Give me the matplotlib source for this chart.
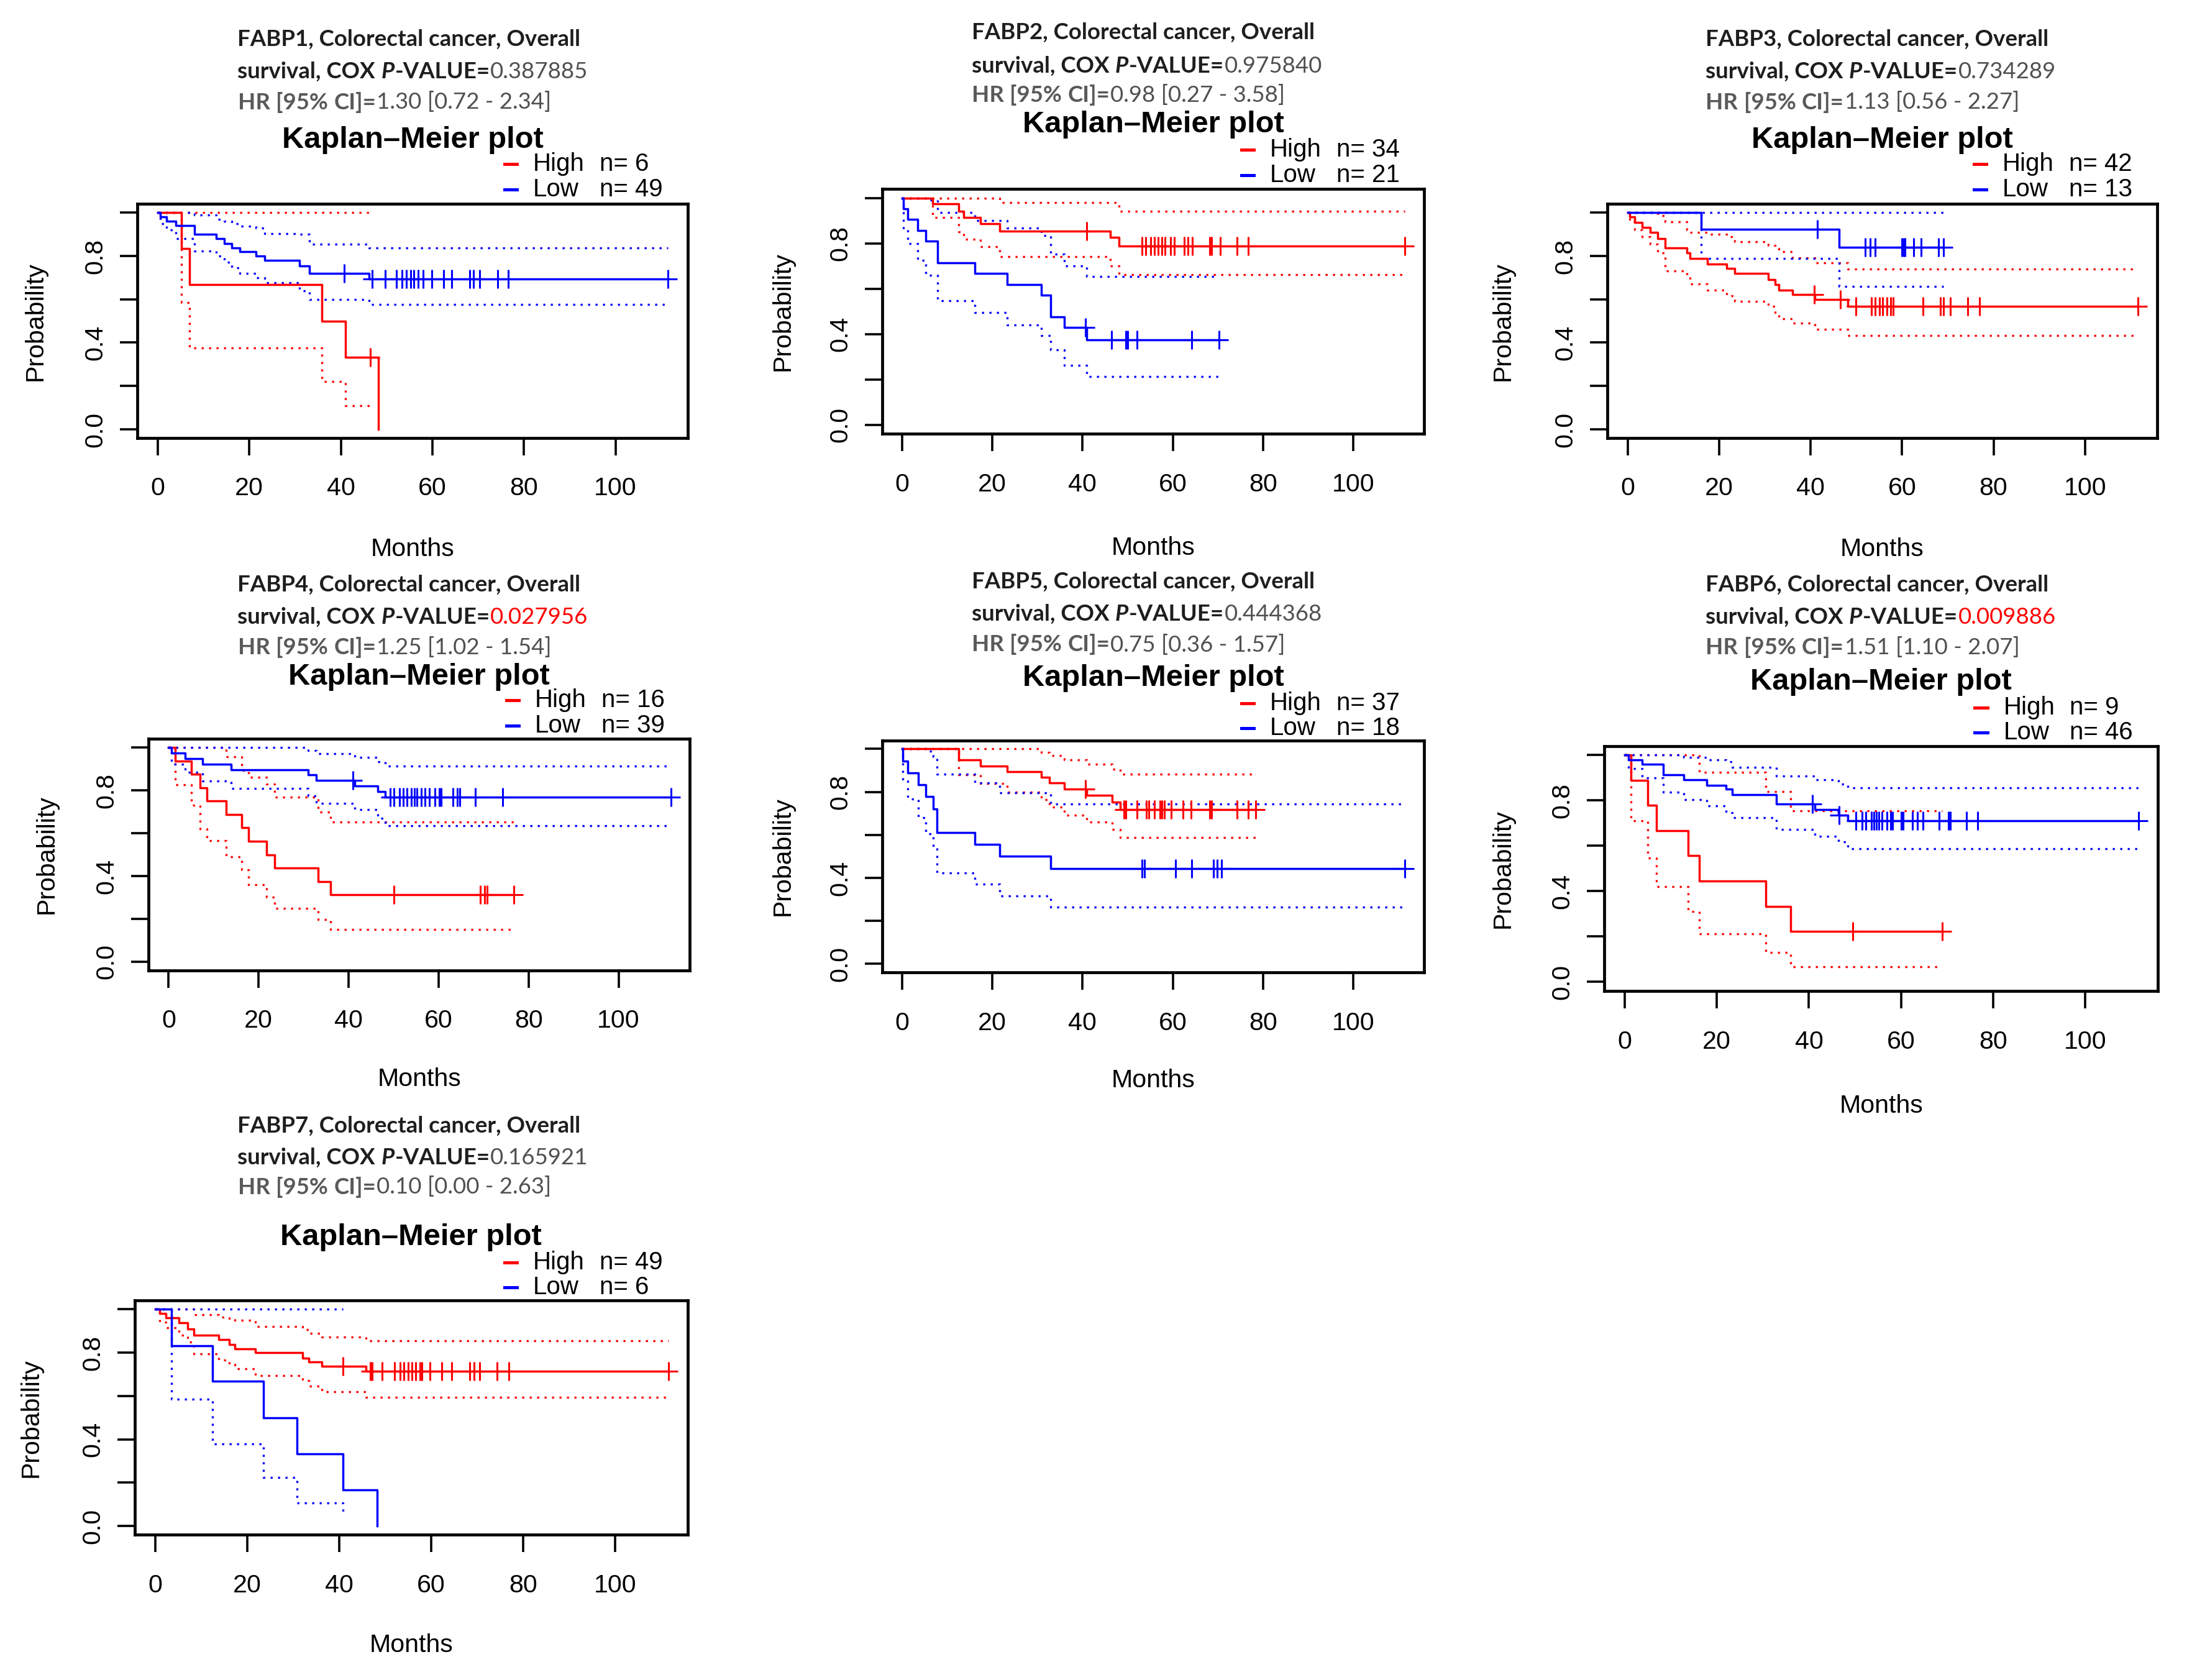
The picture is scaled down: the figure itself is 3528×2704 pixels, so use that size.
import numpy as np
import matplotlib
matplotlib.use("Agg")
import matplotlib.pyplot as plt
from matplotlib.lines import Line2D

nan = np.nan

# ---------------- data ----------------
GENES = ["FABP1", "FABP2", "FABP3", "FABP4", "FABP5", "FABP6", "FABP7"]
P_VALUES = ["0.387885", "0.975840", "0.734289", "0.027956", "0.444368", "0.009886", "0.165921"]
HR_TEXT = ["1.30 [0.72 - 2.34]", "0.98 [0.27 - 3.58]", "1.13 [0.56 - 2.27]", "1.25 [1.02 - 1.54]",
           "0.75 [0.36 - 1.57]", "1.51 [1.10 - 2.07]", "0.10 [0.00 - 2.63]"]
N_HIGH = [6, 34, 42, 16, 37, 9, 49]
N_LOW = [49, 21, 13, 39, 18, 46, 6]
X_TICKS = [0, 20, 40, 60, 80, 100]
Y_TICKS = [0.0, 0.2, 0.4, 0.6, 0.8, 1.0]
Y_TICK_LABELS = ["0.0", "", "0.4", "", "0.8", ""]

# FABP1
F1_HIGH_EV = [5.1, 6.9, 35.8, 41.0, 48.2]
F1_HIGH_S = [0.833, 0.667, 0.500, 0.333, 0.0]
F1_HIGH_UP = [1.0, 1.0, 1.0, 1.0, nan]
F1_HIGH_LO = [0.586, 0.376, 0.220, 0.110, nan]
F1_HIGH_CENS = [46.5]
F1_LOW_EV = [0.6, 1.9, 3.9, 8.0, 12.7, 14.5, 16.2, 17.9, 21.4, 23.4, 30.9, 33.1, 46.1]
F1_LOW_S = [0.980, 0.960, 0.940, 0.900, 0.880, 0.857, 0.838, 0.819, 0.800, 0.781, 0.753, 0.720, 0.694]
F1_LOW_UP = [1.0, 1.0, 1.0, 0.99, 0.97, 0.96, 0.95, 0.938, 0.93, 0.902, 0.90, 0.854, 0.836]
F1_LOW_LO = [0.95, 0.92, 0.88, 0.824, 0.80, 0.77, 0.745, 0.72, 0.70, 0.676, 0.64, 0.60, 0.575]
F1_LOW_CENS = [40.7, 46.9, 49.7, 52.1, 53.4, 54.3, 55.2, 56.0, 56.9, 58.0, 59.9, 62.5, 64.2,
               68.1, 69.0, 70.3, 74.2, 76.6, 111.4]

# FABP2
F2_HIGH_EV = [6.8, 12.5, 13.7, 17.4, 21.6, 46.2, 48.1]
F2_HIGH_S = [0.974, 0.942, 0.913, 0.886, 0.853, 0.826, 0.788]
F2_HIGH_UP = [1.0, 1.0, 1.0, 1.0, 0.98, 0.98, 0.942]
F2_HIGH_LO = [0.915, 0.85, 0.817, 0.785, 0.741, 0.70, 0.661]
F2_HIGH_CENS = [40.9, 53.2, 54.0, 55.1, 55.9, 56.8, 57.6, 58.3, 59.5, 60.3, 62.5, 63.4, 64.4,
                68.2, 68.6, 70.5, 74.3, 76.7, 111.4]
F2_LOW_EV = [0.3, 1.3, 3.4, 5.3, 7.9, 16.1, 23.3, 30.9, 32.9, 36.0, 40.9]
F2_LOW_S = [0.952, 0.905, 0.857, 0.810, 0.714, 0.667, 0.619, 0.571, 0.476, 0.429, 0.375]
F2_LOW_UP = [1.0, 1.0, 1.0, 0.99, 0.935, 0.90, 0.867, 0.835, 0.753, 0.70, 0.655]
F2_LOW_LO = [0.86, 0.80, 0.725, 0.66, 0.547, 0.496, 0.441, 0.395, 0.33, 0.263, 0.214]
F2_LOW_CENS = [40.6, 46.4, 49.6, 50.0, 52.1, 64.2, 70.3]

# FABP3
F3_HIGH_EV = [0.5, 1.5, 3.2, 5.0, 6.6, 8.2, 12.9, 13.7, 17.5, 21.7, 23.4, 30.8, 32.2, 33.0, 36.0, 41.0, 48.2]
F3_HIGH_S = [0.98, 0.955, 0.933, 0.908, 0.88, 0.838, 0.815, 0.789, 0.762, 0.743, 0.72, 0.691,
             0.667, 0.643, 0.623, 0.598, 0.567]
F3_HIGH_UP = [1.0, 1.0, 1.0, 1.0, 0.985, 0.957, 0.919, 0.91, 0.90, 0.89, 0.867, 0.848,
              0.835, 0.82, 0.79, 0.767, 0.739]
F3_HIGH_LO = [0.957, 0.92, 0.89, 0.853, 0.815, 0.731, 0.705, 0.672, 0.643, 0.615, 0.59, 0.567,
              0.54, 0.51, 0.491, 0.463, 0.432]
F3_HIGH_CENS = [40.8, 46.5, 49.9, 53.3, 54.1, 55.0, 55.8, 56.7, 57.5, 58.1, 64.6, 68.4, 69.0,
                70.5, 74.3, 76.9, 111.6]
F3_LOW_EV = [16.1, 46.3]
F3_LOW_S = [0.923, 0.839]
F3_LOW_UP = [1.0, 1.0]
F3_LOW_LO = [0.788, 0.658]
F3_LOW_CENS = [41.5, 52.0, 53.0, 54.1, 60.0, 60.3, 60.6, 62.5, 64.2, 68.0, 69.0]

# FABP4
F4_HIGH_EV = [1.5, 5.0, 7.0, 8.5, 12.8, 16.2, 17.8, 21.8, 23.5, 33.2, 36.0]
F4_HIGH_S = [0.9375, 0.875, 0.8125, 0.75, 0.6875, 0.625, 0.5625, 0.5, 0.4375, 0.375, 0.3125]
F4_HIGH_UP = [1.0, 1.0, 1.0, 1.0, 0.956, 0.894, 0.86, 0.83, 0.768, 0.70, 0.651]
F4_HIGH_LO = [0.826, 0.73, 0.62, 0.564, 0.49, 0.43, 0.36, 0.30, 0.25, 0.197, 0.15]
F4_HIGH_CENS = [50.1, 69.3, 70.2, 70.8, 76.7]
F4_LOW_EV = [0.6, 3.7, 7.6, 13.9, 31.0, 32.8, 41.3, 46.5, 48.2]
F4_LOW_S = [0.974, 0.949, 0.923, 0.897, 0.872, 0.846, 0.821, 0.795, 0.769]
F4_LOW_UP = [1.0, 1.0, 1.0, 1.0, 0.985, 0.97, 0.955, 0.935, 0.913]
F4_LOW_LO = [0.922, 0.884, 0.843, 0.808, 0.775, 0.739, 0.71, 0.67, 0.634]
F4_LOW_CENS = [40.9, 49.3, 50.1, 51.3, 52.1, 53.0, 53.9, 54.6, 55.2, 56.1, 57.0, 57.9, 59.2,
               60.1, 60.5, 63.2, 64.1, 64.7, 68.2, 74.2, 111.6]

# FABP5
F5_HIGH_EV = [12.5, 17.4, 23.3, 30.9, 32.6, 36.0, 40.9, 46.6, 48.3]
F5_HIGH_S = [0.948, 0.921, 0.894, 0.867, 0.841, 0.812, 0.783, 0.754, 0.718]
F5_HIGH_UP = [1.0, 1.0, 1.0, 0.985, 0.97, 0.95, 0.928, 0.905, 0.884]
F5_HIGH_LO = [0.88, 0.838, 0.80, 0.765, 0.73, 0.693, 0.66, 0.626, 0.587]
F5_HIGH_CENS = [40.7, 49.2, 49.6, 52.1, 54.2, 54.7, 55.9, 57.2, 57.6, 58.1, 59.7, 62.3, 64.0,
                68.2, 68.6, 74.2, 76.7, 78.4]
F5_LOW_EV = [0.2, 1.3, 3.6, 5.3, 6.9, 7.8, 16.1, 21.6, 33.0]
F5_LOW_S = [0.944, 0.889, 0.833, 0.778, 0.722, 0.611, 0.556, 0.5, 0.444]
F5_LOW_UP = [1.0, 1.0, 1.0, 0.99, 0.964, 0.884, 0.843, 0.795, 0.745]
F5_LOW_LO = [0.85, 0.766, 0.68, 0.606, 0.543, 0.423, 0.37, 0.316, 0.265]
F5_LOW_CENS = [53.2, 53.8, 60.6, 64.2, 69.0, 69.9, 70.8, 111.4]

# FABP6
F6_HIGH_EV = [1.4, 5.0, 6.9, 13.8, 16.2, 30.7, 36.0]
F6_HIGH_S = [0.889, 0.778, 0.667, 0.556, 0.444, 0.333, 0.222]
F6_HIGH_UP = [1.0, 1.0, 1.0, 1.0, 0.924, 0.84, 0.753]
F6_HIGH_LO = [0.71, 0.547, 0.419, 0.31, 0.213, 0.131, 0.067]
F6_HIGH_CENS = [49.5, 69.0]
F6_LOW_EV = [0.8, 3.8, 8.4, 12.8, 17.8, 22.0, 23.4, 32.9, 41.3, 46.4, 48.5]
F6_LOW_S = [0.98, 0.959, 0.913, 0.89, 0.867, 0.849, 0.826, 0.783, 0.759, 0.735, 0.71]
F6_LOW_UP = [1.0, 1.0, 1.0, 0.99, 0.98, 0.97, 0.945, 0.908, 0.89, 0.872, 0.856]
F6_LOW_LO = [0.94, 0.90, 0.835, 0.803, 0.776, 0.745, 0.723, 0.673, 0.643, 0.616, 0.586]
F6_LOW_CENS = [40.8, 46.5, 50.2, 51.6, 52.3, 53.6, 54.1, 54.6, 55.2, 55.8, 56.9, 57.7, 58.2,
               60.0, 60.5, 62.5, 63.6, 64.7, 68.2, 70.3, 70.7, 74.2, 76.6, 111.5]

# FABP7
F7_HIGH_EV = [1.0, 2.3, 5.2, 7.1, 8.4, 13.8, 16.1, 17.4, 21.8, 32.1, 33.4, 36.3, 45.9]
F7_HIGH_S = [0.981, 0.962, 0.938, 0.909, 0.880, 0.861, 0.837, 0.818, 0.799, 0.775, 0.756, 0.737, 0.713]
F7_HIGH_UP = [1.0, 1.0, 1.0, 1.0, 0.976, 0.965, 0.957, 0.95, 0.92, 0.905, 0.888, 0.871, 0.854]
F7_HIGH_LO = [0.94, 0.914, 0.88, 0.85, 0.794, 0.765, 0.745, 0.727, 0.694, 0.67, 0.646, 0.62, 0.595]
F7_HIGH_CENS = [40.9, 46.8, 47.2, 49.4, 52.0, 53.3, 54.1, 55.0, 55.9, 56.7, 57.6, 58.0, 59.8,
                62.3, 64.5, 68.4, 69.3, 70.6, 74.4, 76.9, 111.6]
F7_LOW_EV = [3.6, 12.5, 23.5, 30.8, 40.9, 48.3]
F7_LOW_S = [0.833, 0.667, 0.5, 0.333, 0.167, 0.0]
F7_LOW_UP = [1.0, 1.0, 1.0, 1.0, 1.0, nan]
F7_LOW_LO = [0.586, 0.378, 0.225, 0.107, 0.053, nan]
F7_LOW_CENS = []

HIGH_CURVES = [
    (F1_HIGH_EV, F1_HIGH_S, F1_HIGH_UP, F1_HIGH_LO, F1_HIGH_CENS),
    (F2_HIGH_EV, F2_HIGH_S, F2_HIGH_UP, F2_HIGH_LO, F2_HIGH_CENS),
    (F3_HIGH_EV, F3_HIGH_S, F3_HIGH_UP, F3_HIGH_LO, F3_HIGH_CENS),
    (F4_HIGH_EV, F4_HIGH_S, F4_HIGH_UP, F4_HIGH_LO, F4_HIGH_CENS),
    (F5_HIGH_EV, F5_HIGH_S, F5_HIGH_UP, F5_HIGH_LO, F5_HIGH_CENS),
    (F6_HIGH_EV, F6_HIGH_S, F6_HIGH_UP, F6_HIGH_LO, F6_HIGH_CENS),
    (F7_HIGH_EV, F7_HIGH_S, F7_HIGH_UP, F7_HIGH_LO, F7_HIGH_CENS),
]
LOW_CURVES = [
    (F1_LOW_EV, F1_LOW_S, F1_LOW_UP, F1_LOW_LO, F1_LOW_CENS),
    (F2_LOW_EV, F2_LOW_S, F2_LOW_UP, F2_LOW_LO, F2_LOW_CENS),
    (F3_LOW_EV, F3_LOW_S, F3_LOW_UP, F3_LOW_LO, F3_LOW_CENS),
    (F4_LOW_EV, F4_LOW_S, F4_LOW_UP, F4_LOW_LO, F4_LOW_CENS),
    (F5_LOW_EV, F5_LOW_S, F5_LOW_UP, F5_LOW_LO, F5_LOW_CENS),
    (F6_LOW_EV, F6_LOW_S, F6_LOW_UP, F6_LOW_LO, F6_LOW_CENS),
    (F7_LOW_EV, F7_LOW_S, F7_LOW_UP, F7_LOW_LO, F7_LOW_CENS),
]

# ---------------- layout (reference units: 1568 x 1201.8) ----------------
FIG_W_PX, FIG_H_PX, DPI = 3528, 2704, 200
SCALE = 2.25
W, H = FIG_W_PX / SCALE, FIG_H_PX / SCALE

LAYOUT = [
    dict(ax=(98.4, 491.8, 145.9, 313.3), hx=170, hy=(28, 51, 73), km=100, leg=(117.5, 135.5), mon=393, prob=25),
    dict(ax=(631, 1018.8, 135.1, 310.4), hx=695, hy=(23, 47, 68), km=89, leg=(107, 125.5), mon=392, prob=560),
    dict(ax=(1149.8, 1543, 145.9, 313.3), hx=1220, hy=(28, 51, 73), km=100, leg=(117.5, 135.5), mon=393, prob=1075),
    dict(ax=(106.4, 493.2, 528.6, 694.1), hx=170, hy=(418, 441, 463), km=484, leg=(501, 519), mon=772, prob=33),
    dict(ax=(631, 1018.8, 529.6, 695.6), hx=695, hy=(416, 439, 461), km=485, leg=(503, 521), mon=773, prob=560),
    dict(ax=(1147.6, 1543.6, 533.6, 708.9), hx=1220, hy=(418, 441, 463), km=488, leg=(506, 524), mon=791, prob=1075),
    dict(ax=(96.4, 491.8, 930.4, 1097.8), hx=170, hy=(805, 828, 849), km=885, leg=(903, 921), mon=1177, prob=22),
]

RED = "#ff0000"
BLUE = "#0000ff"
HEAD_FONT = "Lato"
R_FONT = "Liberation Sans"
HEAD_SIZE = 13.2


def fx(x):
    return x / W


def fy(y):
    return 1.0 - y / H


fig = plt.figure(figsize=(FIG_W_PX / DPI, FIG_H_PX / DPI), dpi=DPI)
fig.patch.set_facecolor("white")
renderer = fig.canvas.get_renderer()


def text_width(s, kw):
    t = fig.text(0, 0, s, **kw)
    w = t.get_window_extent(renderer=renderer).width
    t.remove()
    return w / SCALE


def space_width(kw):
    return text_width("x x", kw) - text_width("xx", kw)


def draw_runs(x, y, runs):
    for s, kw in runs:
        if s == " ":
            x += space_width(kw)
            continue
        t = fig.text(fx(x), fy(y), s, ha="left", va="baseline", **kw)
        x += t.get_window_extent(renderer=renderer).width / SCALE + 0.3


def surv_at(t, ev, s):
    v = 1.0
    for e, si in zip(ev, s):
        if e <= t:
            v = si
    return v


def draw_curve(ax, curve, color):
    ev, s, up, lo, cens = curve
    all_t = list(ev) + list(cens)
    t_end = max(all_t)
    xs = [0.0] + list(ev)
    ys = [1.0] + list(s)
    xs.append(max(t_end, ev[-1]))
    ys.append(s[-1])
    ax.step(xs, ys, where="post", color=color, lw=1.25, zorder=3)
    for band in (up, lo):
        bx, by = [0.0], [1.0]
        stop = None
        for e, v in zip(ev, band):
            if np.isnan(v):
                stop = e
                break
            bx.append(e)
            by.append(v)
        if stop is None:
            bend = t_end
        else:
            prior = [c for c in cens if c < stop]
            bend = max([bx[-1]] + prior)
        bx.append(bend)
        by.append(by[-1])
        ax.step(bx, by, where="post", color=color, lw=1.2,
                linestyle=(0, (1.0, 2.6)), zorder=2)
    if len(cens):
        cy = [surv_at(c, ev, s) for c in cens]
        ax.plot(cens, cy, linestyle="none", marker="+", color=color,
                markersize=11, markeredgewidth=1.1, zorder=4)


bold_dark = dict(family=HEAD_FONT, fontweight="bold", color="#1e1e1e", fontsize=HEAD_SIZE)
bold_dark_it = dict(family=HEAD_FONT, fontweight="bold", fontstyle="italic", color="#1e1e1e", fontsize=HEAD_SIZE)
reg_gray = dict(family=HEAD_FONT, fontweight="normal", color="#505050", fontsize=HEAD_SIZE)
bold_gray = dict(family=HEAD_FONT, fontweight="bold", color="#5a5a5a", fontsize=HEAD_SIZE)

for i, lay in enumerate(LAYOUT):
    l, r, top, bot = lay["ax"]
    ax = fig.add_axes([fx(l), fy(bot), (r - l) / W, (bot - top) / H])
    draw_curve(ax, HIGH_CURVES[i], RED)
    draw_curve(ax, LOW_CURVES[i], BLUE)
    ax.set_xlim(-4.42, 115.75)
    ax.set_ylim(-0.04, 1.04)
    ax.set_xticks(X_TICKS)
    ax.set_xticklabels([str(v) for v in X_TICKS], family=R_FONT, fontsize=14.8)
    ax.set_yticks(Y_TICKS)
    ax.set_yticklabels(Y_TICK_LABELS, family=R_FONT, fontsize=14.8, rotation=90,
                       va="center", ha="right")
    ax.tick_params(axis="both", direction="out", length=10, width=1.3, color="black")
    ax.tick_params(axis="x", pad=12.5)
    ax.tick_params(axis="y", pad=7.5)
    for sp in ax.spines.values():
        sp.set_linewidth(1.7)
        sp.set_color("black")
    cx = (l + r) / 2.0
    cy = (top + bot) / 2.0
    fig.text(fx(cx), fy(lay["mon"]), "Months", ha="center", va="center",
             family=R_FONT, fontsize=14.8)
    fig.text(fx(lay["prob"]), fy(cy), "Probability", ha="center", va="center",
             rotation=90, family=R_FONT, fontsize=14.8)
    fig.text(fx(cx), fy(lay["km"]), "Kaplan\u2013Meier plot", ha="center", va="center",
             family=R_FONT, fontweight="bold", fontsize=17.6)
    for row_y, col, name, n in ((lay["leg"][0], RED, "High", N_HIGH[i]),
                                (lay["leg"][1], BLUE, "Low", N_LOW[i])):
        fig.add_artist(Line2D([fx(r - 131), fx(r - 122)], [fy(row_y), fy(row_y)],
                              color=col, lw=1.8, transform=fig.transFigure))
        fig.text(fx(r - 110.5), fy(row_y), name, ha="left", va="center",
                 family=R_FONT, fontsize=14.5)
        fig.text(fx(r - 63), fy(row_y), "n= %d" % n, ha="left", va="center",
                 family=R_FONT, fontsize=14.5)
    hx = lay["hx"]
    y1, y2, y3 = [v + 5 for v in lay["hy"]]
    pval_color = RED if float(P_VALUES[i]) < 0.05 else "#505050"
    draw_runs(hx, y1, [("%s, Colorectal cancer, Overall" % GENES[i], bold_dark)])
    draw_runs(hx, y2, [("survival, COX", bold_dark), (" ", bold_dark), ("P", bold_dark_it),
                       ("-VALUE=", bold_dark), (P_VALUES[i], dict(reg_gray, color=pval_color))])
    draw_runs(hx, y3, [("HR", bold_gray), (" ", bold_gray), ("[95%", bold_gray), (" ", bold_gray),
                       ("CI]=", bold_gray), (HR_TEXT[i], reg_gray)])

fig.savefig("out.png", dpi=DPI, facecolor="white")
